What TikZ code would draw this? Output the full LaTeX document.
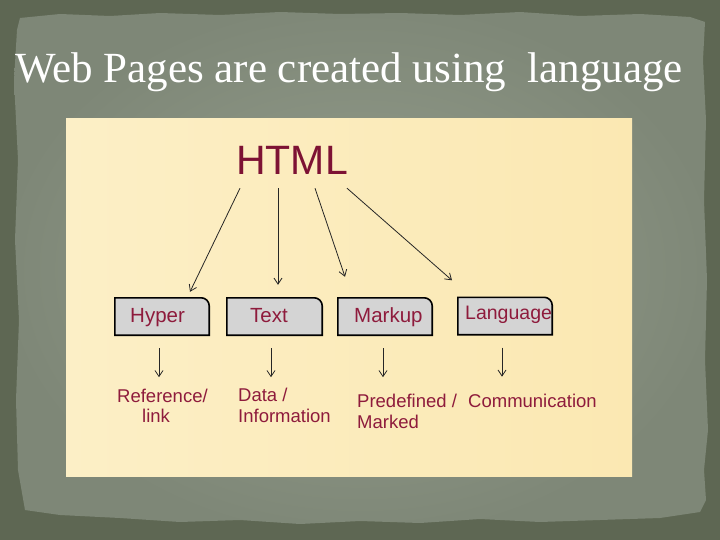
\documentclass[tikz,border=0pt]{standalone}
\usepackage{fontspec}
\setmainfont{Liberation Serif}
\newfontfamily\arial{Liberation Sans}
\usetikzlibrary{arrows.meta,calc}
\definecolor{outerbg}{HTML}{5E6753}
\definecolor{paperin}{HTML}{959E8D}
\definecolor{paperout}{HTML}{7E8777}
\definecolor{panelL}{HTML}{FCEFC6}
\definecolor{panelR}{HTML}{FBE8B2}
\definecolor{maroon}{HTML}{7D1234}
\definecolor{labred}{HTML}{8E1B3C}
\definecolor{boxgray}{HTML}{D4D4D4}
\begin{document}
\begin{tikzpicture}[x=1pt,y=-1pt,
  arr/.style={draw=black!85, line width=0.8pt, -{Straight Barb[length=6pt,width=8pt]}},
  boxshape/.style={minimum width=94pt, minimum height=37pt, inner sep=0pt},
  boxline/.style={draw=black, line width=1.6pt, fill=boxgray},
  boxtext/.style={font=\arial\fontsize{20.5}{24}\selectfont, text=labred, anchor=base west, inner sep=0pt},
  labtext/.style={font=\arial\fontsize{18.5}{21}\selectfont, text=labred, anchor=base west, inner sep=0pt, align=left},
]
\useasboundingbox (0,0) rectangle (720,540);
\fill[outerbg] (0,0) rectangle (720,540);
% torn paper
\begin{scope}
\clip (20,18) -- (60,14) -- (110,16) -- (160,13) -- (220,15) -- (280,12) -- (340,14) -- (400,13) -- (460,15) -- (520,12) -- (580,16) -- (640,14) -- (690,17) -- (705,22)
  -- (703,60) -- (706,120) -- (704,200) -- (707,280) -- (705,360) -- (708,430) -- (704,470) -- (706,500) -- (700,512)
  -- (660,518) -- (600,520) -- (540,522) -- (480,519) -- (420,523) -- (360,521) -- (300,524) -- (240,520) -- (180,522) -- (120,518) -- (60,515) -- (25,510)
  -- (18,470) -- (16,400) -- (19,320) -- (15,240) -- (18,160) -- (14,80) -- (17,30) -- cycle;
\shade[inner color=paperin, outer color=paperout] (0,0) rectangle (720,540);
\end{scope}
% title
\node[anchor=base west, text=white, font=\fontsize{43}{50}\selectfont, inner sep=0pt] (title) at (15,83) {Web Pages are created using\ \ language};
% panel
\shade[left color=panelL, right color=panelR] (66,119) rectangle (632,476);
% HTML
\node[font=\arial\fontsize{41}{48}\selectfont, text=maroon, anchor=base west, inner sep=0pt] (html) at (236,175) {HTML};
% boxes
\foreach \n/\cx/\cy/\w in {hyper/162/316.5/94, text/274.5/316.5/95, markup/385/316.5/94, lang/505/316/94}{
  \node[boxshape, minimum width=\w pt] (\n) at (\cx,\cy) {};
  \draw[boxline] (\n.north) [rounded corners=8pt] -- (\n.north east) -- (\n.east) [sharp corners] -- (\n.south east) -- (\n.south west) -- (\n.north west) -- cycle;
}
\node[boxtext] (thyper) at (130,322) {Hyper};
\node[boxtext] (ttext) at (250,322) {Text};
\node[boxtext] (tmarkup) at (354,322) {Markup};
\node[boxtext, font=\arial\fontsize{19.5}{24}\selectfont] (tlang) at (465,319) {Language};
% arrows from HTML
\draw[arr] ($(html.south west)+(4,13)$) -- ($(hyper.north)+(28,-6)$);
\draw[arr] ($(html.south west)+(42,13)$) -- ($(text.north)+(3.5,-13)$);
\draw[arr] ($(html.south west)+(79,13)$) -- ($(markup.north)+(-40,-21)$);
\draw[arr] ($(html.south west)+(111,13)$) -- ($(lang.north)+(-53,-17)$);
% labels (base = baseline of last line)
\node[labtext, font=\arial\fontsize{18.5}{19.5}\selectfont] (ref) at (117,422) {Reference/\\\hspace*{25pt}link};
\node[labtext] (data) at (238,422) {Data /\\Information};
\node[labtext] (pre) at (357,428) {Predefined /\\Marked};
\node[labtext] (comm) at (468,407) {Communication};
% small arrows
\draw[arr] ($(hyper.south)+(-3,13)$) -- ($(hyper.south)+(-3,42)$);
\draw[arr] ($(text.south)+(-3.5,13)$) -- ($(text.south)+(-3.5,42)$);
\draw[arr] ($(markup.south)+(-2,13)$) -- ($(markup.south)+(-2,42)$);
\draw[arr] ($(lang.south)+(-3,13)$) -- ($(lang.south)+(-3,42)$);
\end{tikzpicture}
\end{document}
